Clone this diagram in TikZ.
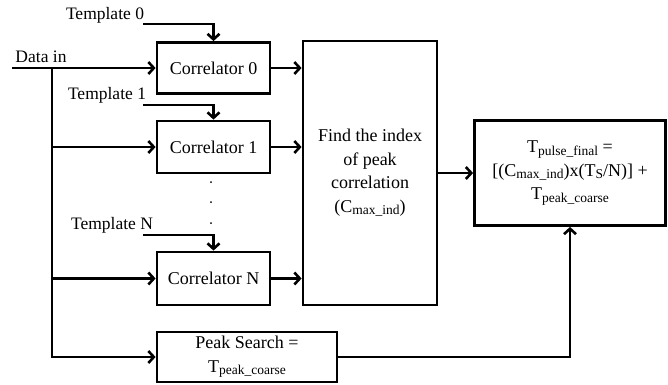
\documentclass[tikz,border=0pt]{standalone}
\usepackage{fontspec}
\setmainfont{Liberation Serif}
\usetikzlibrary{arrows.meta}
\newcommand\sbs[1]{\raisebox{-0.32ex}{\fontsize{13.5}{13.5}\selectfont #1}}
\begin{document}
\begin{tikzpicture}[x=1pt,y=-1pt,line width=2.8pt,
  box/.style={draw,line width=2.8pt,inner sep=0pt,align=center,font=\fontsize{18}{23.5}\selectfont},
  arr/.style={-{Straight Barb[length=5.5pt,width=12pt,line width=2.6pt]}},
  lbl/.style={font=\fontsize{17.5}{20}\selectfont,inner sep=0pt}]
\useasboundingbox (0,0) rectangle (668,384);
% boxes
\node[box,minimum width=113pt,minimum height=51pt] (c0) at (213.5,68) {Correlator 0};
\node[box,minimum width=113pt,minimum height=52pt] (c1) at (213.5,147) {Correlator 1};
\node[box,minimum width=113pt,minimum height=53pt] (cN) at (213.5,278.5) {Correlator N};
\node[box,minimum width=134pt,minimum height=264pt] (f) at (370,173)
  {Find the index\\of peak\\correlation\\(C\sbs{max\_ind})};
\node[box,minimum width=191pt,minimum height=105pt] (r) at (570,173)
  {T\sbs{pulse\_final} =\\{}[(C\sbs{max\_ind})x(T\sbs{S}/N)] +\\T\sbs{peak\_coarse}};
\node[box,minimum width=180pt,minimum height=50pt] (p) at (247,357)
  {Peak Search =\\T\sbs{peak\_coarse}};
% labels
\node[lbl] (din-l) at (41,57) {Data in};
\node[lbl] (t0-l) at (105,15) {Template 0};
\node[lbl] (t1-l) at (107,95) {Template 1};
\node[lbl] (tN-l) at (112,225) {Template N};
% coordinates
\coordinate (din) at (12,68);
\coordinate (bus) at (52,68);
\coordinate (t0e) at (143,24);
\coordinate (t1e) at (143,105);
\coordinate (tNe) at (143,235);
% connectors
\draw[arr] (din) -- (c0.west);
\draw[arr] (bus) |- (p.west);
\draw[arr] (bus |- c1.west) -- (c1.west);
\draw[arr] (bus |- cN.west) -- (cN.west);
\draw[arr] (t0e) -| (c0.north);
\draw[arr] (t1e) -| (c1.north);
\draw[arr] (tNe) -| (cN.north);
\draw[arr] (c0.east) -- (c0.east -| f.west);
\draw[arr] (c1.east) -- (c1.east -| f.west);
\draw[arr] (cN.east) -- (cN.east -| f.west);
\draw[arr] (f.east) -- (r.west);
\draw[arr] (p.east) -| (r.south);
% dots
\foreach \yy in {182,202,223} \fill (211,\yy) circle (1pt);
\end{tikzpicture}
\end{document}
